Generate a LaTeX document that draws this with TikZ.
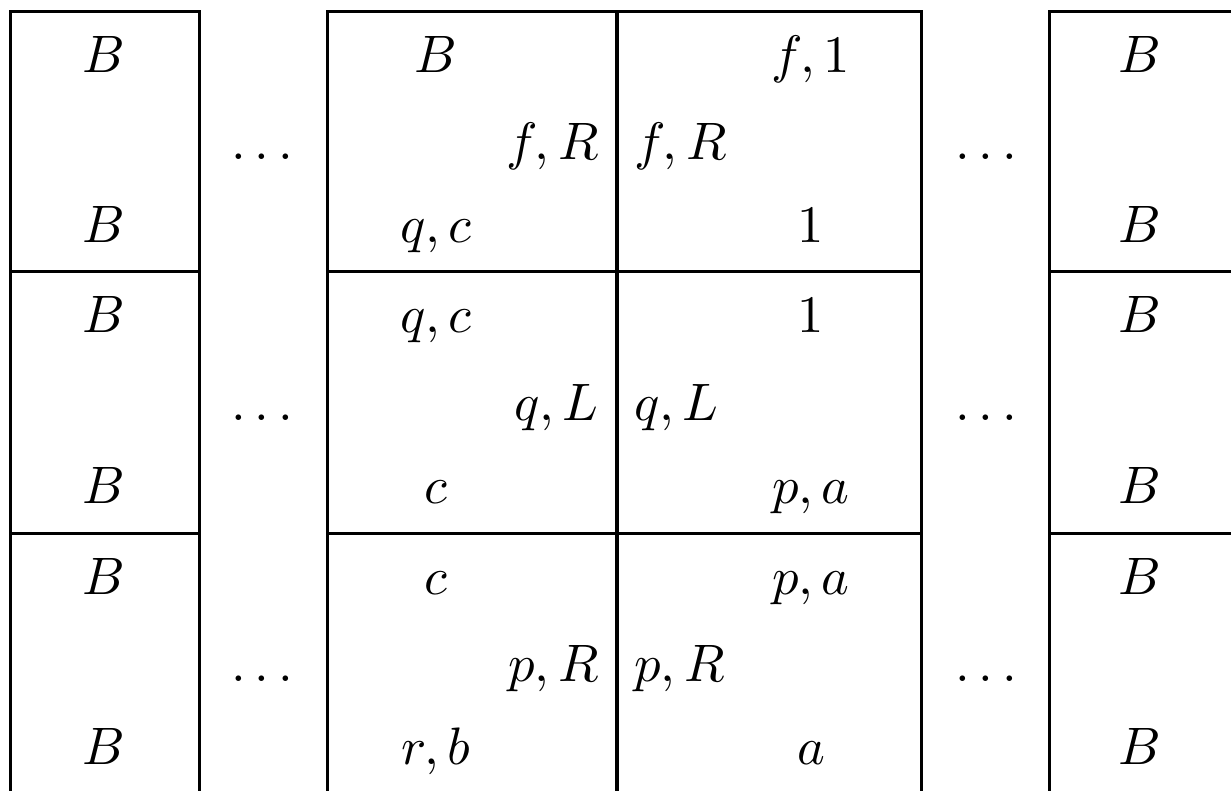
\documentclass[tikz,border=0pt]{standalone}
\usepackage{graphicx}
\newcommand{\tilelbl}[1]{\scalebox{5.27}{$#1$}}
\begin{document}
\begin{tikzpicture}[x=1pt,y=-1pt,
  lbl/.style={inner sep=0pt},
  gridline/.style={line width=3pt, line cap=rect},
  divline/.style={line width=4pt}]
\useasboundingbox (0,0) rectangle (1231,791);
% left column box
\draw[gridline] (10,791) -- (10,12) -- (199,12) -- (199,791);
\draw[gridline] (10,272) -- (199,272);
\draw[gridline] (10,533) -- (199,533);
% central two tiles
\draw[gridline] (327,791) -- (327,12) -- (921,12) -- (921,791);
\draw[gridline] (327,272) -- (921,272);
\draw[gridline] (327,533) -- (921,533);
\draw[divline] (617,12) -- (617,791);
% right column box
\draw[gridline] (1231,12) -- (1049,12) -- (1049,791);
\draw[gridline] (1049,272) -- (1231,272);
\draw[gridline] (1049,533) -- (1231,533);
% labels
\foreach \r/\y/\a/\b/\c/\d/\e/\f in {
  1/12/B/{f,R}/{q,c}/{f,1}/{f,R}/1,
  2/272/{q,c}/{q,L}/c/1/{q,L}/{p,a},
  3/533/c/{p,R}/{r,b}/{p,a}/{p,R}/a}{
  \node[lbl,anchor=base] (lt\r) at (104,\y+61) {\tilelbl{B}};
  \node[lbl,anchor=base] (lb\r) at (104,\y+231) {\tilelbl{B}};
  \node[lbl,anchor=base] (ld\r) at (262,\y+148) {\tilelbl{\ldots}};
  \node[lbl,anchor=base] (at\r) at (436,\y+61) {\tilelbl{\a}};
  \node[lbl,anchor=base east] (am\r) at (599,\y+148) {\tilelbl{\b}};
  \node[lbl,anchor=base] (ab\r) at (436,\y+231) {\tilelbl{\c}};
  \node[lbl,anchor=base] (bt\r) at (811,\y+61) {\tilelbl{\d}};
  \node[lbl,anchor=base west] (bm\r) at (634,\y+148) {\tilelbl{\e}};
  \node[lbl,anchor=base] (bb\r) at (811,\y+231) {\tilelbl{\f}};
  \node[lbl,anchor=base] (rd\r) at (986,\y+148) {\tilelbl{\ldots}};
  \node[lbl,anchor=base] (rt\r) at (1140,\y+61) {\tilelbl{B}};
  \node[lbl,anchor=base] (rb\r) at (1140,\y+231) {\tilelbl{B}};
}
\end{tikzpicture}
\end{document}
